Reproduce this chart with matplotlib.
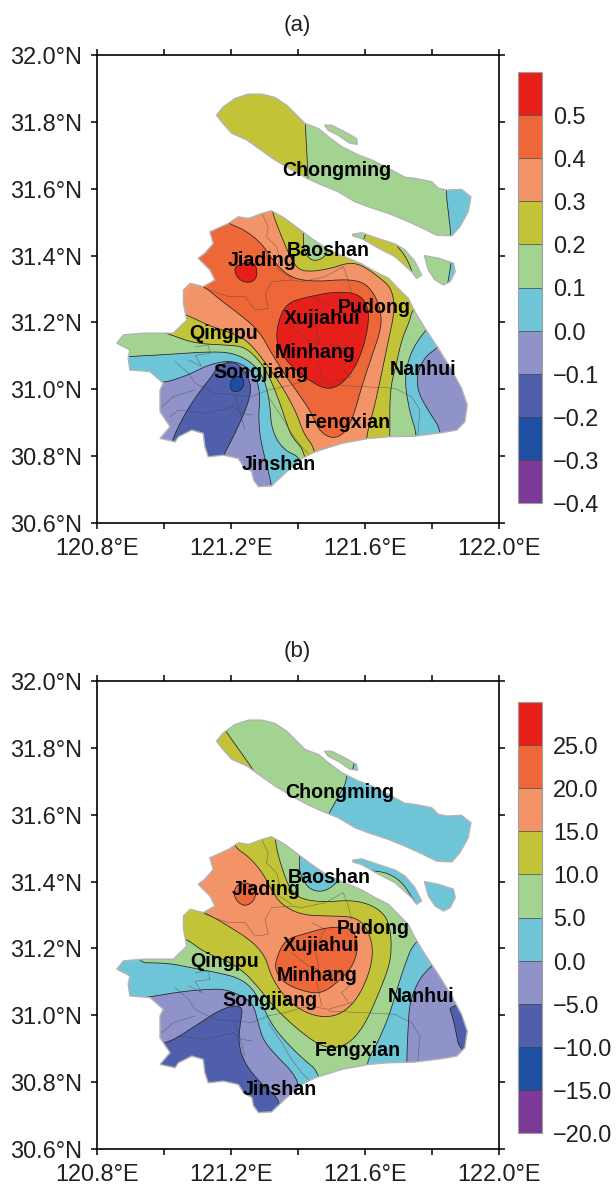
import numpy as np
import matplotlib
matplotlib.use('Agg')
import matplotlib.pyplot as plt
from matplotlib.patches import Polygon
from matplotlib.colors import ListedColormap, BoundaryNorm
from matplotlib.cm import ScalarMappable

plt.rcParams['font.family'] = ['Liberation Sans', 'DejaVu Sans']

# colours of the bands, low to high
band_colors = ['#7B3A96', '#1E4FA3', '#4F5FAB', '#8F93C9', '#6FC5D8',
               '#A3D390', '#C3C337', '#F29468', '#EE6739', '#E71F1B']
PURPLE, DBLUE, MBLUE, PERI, CYAN, GREEN, OLIVE, SALMON, ORANGE, RED = range(10)

levels_a = [-0.4, -0.3, -0.2, -0.1, 0.0, 0.1, 0.2, 0.3, 0.4, 0.5, 0.6]
levels_b = [-20, -15, -10, -5, 0, 5, 10, 15, 20, 25, 30]
cbar_labels_a = ['\u22120.4', '\u22120.3', '\u22120.2', '\u22120.1', '0.0', '0.1', '0.2', '0.3', '0.4', '0.5']
cbar_labels_b = ['\u221220.0', '\u221215.0', '\u221210.0', '\u22125.0', '0.0', '5.0', '10.0', '15.0', '20.0', '25.0']

# coast outlines (lon, lat)
chongming = [(121.158,31.820),(121.178,31.845),(121.213,31.870),(121.253,31.883),(121.293,31.883),(121.332,31.873),
             (121.367,31.850),(121.397,31.820),(121.422,31.795),(121.462,31.780),(121.492,31.755),(121.531,31.726),
             (121.581,31.701),(121.621,31.686),(121.671,31.661),(121.720,31.634),(121.750,31.631),(121.800,31.621),
             (121.820,31.601),(121.845,31.596),(121.889,31.598),(121.917,31.576),(121.909,31.531),(121.884,31.486),
             (121.860,31.459),(121.815,31.461),(121.775,31.481),(121.720,31.506),(121.671,31.526),(121.611,31.546),
             (121.571,31.561),(121.521,31.591),(121.472,31.611),(121.432,31.629),(121.382,31.656),(121.332,31.686),
             (121.283,31.721),(121.248,31.746),(121.203,31.766),(121.173,31.800)]
islet = [(121.480,31.790),(121.501,31.790),(121.541,31.770),(121.576,31.750),(121.578,31.733),(121.556,31.736),
         (121.521,31.760),(121.491,31.775)]
changxing = [(121.563,31.464),(121.591,31.468),(121.641,31.451),(121.690,31.435),(121.720,31.417),(121.750,31.382),
             (121.770,31.342),(121.755,31.332),(121.740,31.352),(121.690,31.397),(121.641,31.422),(121.591,31.451),
             (121.566,31.458)]
hengsha = [(121.778,31.400),(121.820,31.392),(121.865,31.377),(121.870,31.352),(121.855,31.322),(121.835,31.312),
           (121.810,31.327),(121.790,31.357)]
mainland = [(121.322,31.534),(121.362,31.511),(121.402,31.481),(121.442,31.451),(121.491,31.417),(121.551,31.392),
            (121.591,31.375),(121.631,31.352),(121.671,31.332),(121.700,31.302),(121.730,31.272),(121.750,31.232),
            (121.780,31.182),(121.820,31.122),(121.860,31.057),(121.889,31.003),(121.906,30.953),(121.899,30.903),
            (121.875,30.878),(121.830,30.870),(121.750,30.860),(121.671,30.858),(121.611,30.853),(121.531,30.838),
            (121.452,30.813),(121.412,30.793),(121.362,30.749),(121.322,30.711),(121.283,30.709),(121.268,30.729),
            (121.263,30.754),(121.238,30.769),(121.223,30.793),(121.178,30.803),(121.133,30.798),(121.123,30.828),
            (121.118,30.868),(121.084,30.878),(121.044,30.858),(121.034,30.843),(120.989,30.853),(121.019,30.888),
            (120.989,30.933),(120.989,30.998),(120.999,31.018),(120.959,31.053),(120.899,31.058),(120.894,31.093),
            (120.899,31.118),(120.860,31.138),(120.880,31.163),(120.944,31.168),(121.029,31.168),(121.069,31.207),
            (121.059,31.257),(121.059,31.297),(121.079,31.317),(121.118,31.307),(121.153,31.327),(121.138,31.357),
            (121.103,31.392),(121.123,31.407),(121.148,31.436),(121.138,31.471),(121.193,31.496),(121.223,31.516),
            (121.253,31.511),(121.293,31.526)]

# district boundaries
districts = [
    [(121.293,31.526),(121.312,31.486),(121.307,31.456),(121.337,31.426),(121.347,31.387),(121.337,31.362),(121.382,31.332)],
    [(121.123,31.302),(121.193,31.277),(121.243,31.277),(121.273,31.237),(121.312,31.242),(121.303,31.287),(121.322,31.322),
     (121.382,31.327),(121.412,31.322),(121.482,31.337),(121.536,31.367),(121.551,31.327),(121.561,31.287)],
    [(121.034,31.083),(121.074,31.048),(121.094,31.018),(121.133,30.998),(121.153,30.988),(121.213,30.983),(121.263,30.978),
     (121.312,30.998),(121.362,31.008),(121.432,31.028),(121.491,31.018),(121.561,31.038)],
    [(121.491,31.013),(121.591,31.008),(121.690,31.003),(121.740,30.978),(121.765,30.938),(121.758,30.860)],
    [(120.994,30.948),(121.029,30.978),(121.094,30.998)],
    [(121.019,30.918),(121.044,30.938),(121.123,30.928),(121.208,30.948),(121.233,30.928),(121.263,30.923)],
    [(121.213,30.978),(121.223,30.948),(121.243,30.878)],
    [(121.312,30.978),(121.352,30.918),(121.382,30.868),(121.412,30.828),(121.432,30.808)],
    [(121.442,31.277),(121.482,31.257),(121.452,31.197),(121.462,31.147),(121.457,31.098),(121.472,31.028)],
    [(121.491,31.137),(121.531,31.127),(121.566,31.098),(121.531,31.068),(121.551,31.038)],
    [(121.094,31.127),(121.133,31.132),(121.138,31.107),(121.094,31.102),(121.113,31.068),(121.074,31.088)],
    [(121.382,31.187),(121.432,31.147),(121.462,31.137)],
]

# panel (a): areas above each contour level, mainland
a_00 = [(120.944,31.023),(120.999,31.018),(121.074,31.043),(121.133,31.073),(121.193,31.086),(121.243,31.073),(121.278,31.033),
        (121.288,30.978),(121.283,30.923),(121.288,30.848),(121.322,30.719),(121.332,30.630),(121.833,30.630),(121.833,30.870),
        (121.795,30.928),(121.760,30.988),(121.755,31.043),(121.780,31.098),(121.815,31.122),(121.889,31.197),(121.889,31.626),
        (120.795,31.626),(120.795,31.038)]
a_01 = [(120.855,31.093),(120.894,31.098),(120.994,31.103),(121.143,31.113),(121.213,31.108),(121.273,31.073),(121.303,31.023),
        (121.317,30.958),(121.322,30.878),(121.357,30.818),(121.417,30.793),(121.432,30.630),(121.758,30.630),(121.758,30.860),
        (121.735,30.928),(121.718,31.028),(121.735,31.108),(121.780,31.177),(121.850,31.247),(121.850,31.626),(120.795,31.626),
        (120.795,31.127)]
a_02 = [(121.412,31.546),(121.417,31.476),(121.417,31.417),(121.437,31.387),(121.462,31.385),(121.487,31.402),(121.482,31.427),
        (121.457,31.456),(121.491,31.506),(121.790,31.307),(121.740,31.232),(121.735,31.207),(121.710,31.147),(121.695,31.078),
        (121.675,30.998),(121.675,30.860),(121.675,30.630),(121.432,30.630),(121.427,30.808),(121.382,30.858),(121.367,30.898),
        (121.347,30.958),(121.322,31.023),(121.293,31.078),(121.243,31.127),(121.193,31.132),(121.094,31.137),(121.024,31.162),
        (120.894,31.207),(120.894,31.546)]
a_03 = [(121.322,31.566),(121.322,31.534),(121.352,31.456),(121.377,31.397),(121.402,31.357),(121.442,31.352),(121.501,31.362),
        (121.551,31.379),(121.591,31.372),(121.641,31.337),(121.681,31.302),(121.690,31.237),(121.671,31.147),(121.636,30.978),
        (121.621,30.918),(121.603,30.853),(121.591,30.630),(121.472,30.630),(121.457,30.815),(121.417,30.868),(121.397,30.928),
        (121.357,31.003),(121.312,31.068),(121.263,31.132),(121.223,31.162),(121.143,31.187),(121.069,31.222),(120.944,31.277),
        (120.944,31.566)]
a_04 = [(121.193,31.496),(121.243,31.476),(121.293,31.436),(121.332,31.377),(121.382,31.332),(121.452,31.322),(121.541,31.329),
        (121.591,31.322),(121.621,31.297),(121.646,31.247),(121.651,31.187),(121.621,31.098),(121.591,31.008),(121.566,30.918),
        (121.541,30.868),(121.501,30.851),(121.462,30.878),(121.442,30.928),(121.402,30.988),(121.362,31.043),(121.322,31.108),
        (121.283,31.177),(121.223,31.227),(121.163,31.272),(121.123,31.307),(121.044,31.337),(121.044,31.496),(121.143,31.536)]
a_05 = [(121.362,31.257),(121.432,31.277),(121.511,31.292),(121.581,31.287),(121.611,31.247),(121.611,31.187),(121.591,31.108),
        (121.561,31.048),(121.521,31.008),(121.482,31.000),(121.432,31.028),(121.382,31.068),(121.342,31.118),(121.335,31.177)]
a_05_jiading = [(121.208,31.362),(121.233,31.377),(121.273,31.382),(121.281,31.337),(121.258,31.317),(121.223,31.327)]
a_low_1 = [(121.024,30.848),(121.064,30.928),(121.103,30.988),(121.143,31.038),(121.163,31.070),(121.203,31.085),(121.238,31.063),
           (121.260,31.018),(121.258,30.978),(121.238,30.923),(121.208,30.858),(121.176,30.798),(121.153,30.729),(120.994,30.729)]
a_low_2 = [(121.196,31.018),(121.213,31.038),(121.235,31.038),(121.241,31.013),(121.225,30.993),(121.203,30.993)]
# panel (a): islands
a_ch_01 = [(121.842,31.925),(121.842,31.596),(121.850,31.526),(121.858,31.459),(121.858,31.327),(121.094,31.327),(121.094,31.925)]
a_ch_02 = [(121.422,31.925),(121.422,31.795),(121.432,31.629),(121.432,31.476),(121.094,31.476),(121.094,31.925)]
a_cx_02 = [(121.690,31.486),(121.690,31.435),(121.720,31.402),(121.745,31.347),(121.745,31.307),(121.591,31.307),(121.591,31.486)]
a_hs_01 = [(121.858,31.397),(121.858,31.377),(121.848,31.317),(121.840,31.287),(121.740,31.287),(121.740,31.427)]

# panel (b): mainland
b_00 = [(120.845,31.048),(120.899,31.048),(120.959,31.055),(121.054,31.071),(121.133,31.078),(121.183,31.078),(121.233,31.058),
        (121.268,31.033),(121.283,30.973),(121.298,30.923),(121.342,30.873),(121.382,30.833),(121.407,30.788),(121.407,30.630),
        (121.725,30.630),(121.725,30.863),(121.730,30.973),(121.735,31.043),(121.765,31.113),(121.805,31.152),(121.870,31.227),
        (121.870,31.626),(120.795,31.626),(120.795,31.048)]
b_05 = [(120.894,31.157),(121.009,31.157),(121.084,31.142),(121.163,31.127),(121.223,31.112),(121.263,31.083),(121.293,31.033),
        (121.322,30.973),(121.362,30.923),(121.412,30.873),(121.472,30.823),(121.482,30.630),(121.599,30.630),(121.599,30.848),
        (121.636,30.913),(121.671,30.993),(121.695,31.073),(121.720,31.152),(121.748,31.222),(121.840,31.277),(121.591,31.446),
        (121.521,31.427),(121.521,31.400),(121.482,31.370),(121.442,31.373),(121.417,31.400),(121.404,31.435),(121.407,31.475),
        (121.392,31.546),(120.894,31.546)]
b_10 = [(121.332,31.546),(121.332,31.529),(121.342,31.475),(121.372,31.385),(121.402,31.350),(121.472,31.338),(121.561,31.345),
        (121.621,31.330),(121.661,31.300),(121.675,31.262),(121.680,31.212),(121.675,31.152),(121.641,31.063),(121.601,30.973),
        (121.561,30.923),(121.526,30.905),(121.491,30.903),(121.452,30.918),(121.382,30.973),(121.322,31.033),(121.283,31.083),
        (121.243,31.127),(121.193,31.162),(121.123,31.187),(121.064,31.232),(120.944,31.277),(120.944,31.546)]
b_15 = [(121.213,31.526),(121.213,31.502),(121.253,31.475),(121.293,31.430),(121.322,31.375),(121.352,31.330),(121.412,31.300),
        (121.491,31.297),(121.571,31.295),(121.606,31.262),(121.626,31.202),(121.616,31.132),(121.581,31.053),(121.531,31.003),
        (121.472,30.993),(121.412,31.013),(121.362,31.053),(121.322,31.113),(121.303,31.177),(121.263,31.222),(121.193,31.267),
        (121.128,31.305),(121.044,31.337),(121.044,31.506)]
b_20 = [(121.337,31.172),(121.362,31.227),(121.432,31.247),(121.491,31.264),(121.566,31.262),(121.581,31.202),(121.566,31.152),
        (121.536,31.113),(121.472,31.063),(121.412,31.073),(121.357,31.098),(121.332,31.137)]
b_20_jiading = [(121.208,31.370),(121.223,31.395),(121.255,31.397),(121.276,31.370),(121.270,31.342),(121.243,31.325),(121.216,31.342)]
b_low_1 = [(121.012,30.915),(121.094,30.968),(121.178,31.023),(121.238,31.031),(121.228,30.973),(121.223,30.913),(121.243,30.853),
           (121.293,30.793),(121.357,30.738),(121.332,30.630),(120.894,30.630),(120.894,30.898)]
b_low_2 = [(121.850,31.028),(121.860,31.003),(121.870,30.963),(121.884,30.888),(121.989,30.868),(121.989,31.053)]
# panel (b): islands
b_ch_05 = [(121.553,31.925),(121.553,31.712),(121.521,31.654),(121.491,31.599),(121.442,31.506),(121.094,31.506),(121.094,31.925)]
b_ch_10 = [(121.163,31.885),(121.188,31.846),(121.233,31.783),(121.271,31.729),(121.293,31.686),(121.094,31.686),(121.094,31.885)]
b_is_05 = [(121.571,31.795),(121.569,31.753),(121.563,31.734),(121.556,31.696),(121.442,31.696),(121.442,31.795)]
b_cx_05 = [(121.571,31.433),(121.616,31.433),(121.666,31.427),(121.710,31.400),(121.740,31.355),(121.755,31.333),(121.755,31.287),(121.571,31.287)]

# district labels
place_names = ['Chongming', 'Baoshan', 'Jiading', 'Xujiahui', 'Pudong', 'Qingpu', 'Minhang', 'Songjiang', 'Nanhui', 'Fengxian', 'Jinshan']
place_lon_a = [121.517, 121.490, 121.293, 121.472, 121.629, 121.178, 121.452, 121.290, 121.775, 121.549, 121.344]
place_lat_a = [31.653, 31.414, 31.384, 31.212, 31.245, 31.167, 31.111, 31.051, 31.058, 30.901, 30.774]
place_lon_b = [121.526, 121.495, 121.307, 121.470, 121.626, 121.181, 121.457, 121.317, 121.768, 121.579, 121.347]
place_lat_b = [31.667, 31.413, 31.377, 31.210, 31.260, 31.162, 31.118, 31.043, 31.056, 30.896, 30.779]

land_a = [
    (mainland, PERI, [(CYAN, a_00), (GREEN, a_01), (OLIVE, a_02), (SALMON, a_03), (ORANGE, a_04), (RED, a_05),
                      (RED, a_05_jiading), (MBLUE, a_low_1), (DBLUE, a_low_2)]),
    (chongming, CYAN, [(GREEN, a_ch_01), (OLIVE, a_ch_02)]),
    (islet, GREEN, []),
    (changxing, GREEN, [(OLIVE, a_cx_02)]),
    (hengsha, CYAN, [(GREEN, a_hs_01)]),
]
land_b = [
    (mainland, PERI, [(CYAN, b_00), (GREEN, b_05), (OLIVE, b_10), (SALMON, b_15), (ORANGE, b_20),
                      (ORANGE, b_20_jiading), (MBLUE, b_low_1), (MBLUE, b_low_2)]),
    (chongming, CYAN, [(GREEN, b_ch_05), (OLIVE, b_ch_10)]),
    (islet, CYAN, [(GREEN, b_is_05)]),
    (changxing, CYAN, [(GREEN, b_cx_05)]),
    (hengsha, CYAN, []),
]

W, H = 616, 1186
TEXT = '#231F20'


def smooth(pts, n=3):
    # corner cutting, the contours are round in the original
    p = np.array(pts, dtype=float)
    for _ in range(n):
        q = np.roll(p, -1, axis=0)
        p = np.column_stack([0.75 * p + 0.25 * q, 0.25 * p + 0.75 * q]).reshape(-1, 2)
    return p


def draw_map(ax, land, lons, lats):
    for outline, base, layers in land:
        clip = Polygon(outline, closed=True, fc=band_colors[base], ec='none', zorder=1)
        ax.add_patch(clip)
        for k, poly in layers:
            p = Polygon(smooth(poly), closed=True, fc=band_colors[k], ec='#222222', lw=0.55, zorder=2)
            ax.add_patch(p)
            p.set_clip_path(clip)
        if outline is mainland:
            for d in districts:
                d = np.array(d)
                ln, = ax.plot(d[:, 0], d[:, 1], color='#444444', lw=0.35, alpha=0.75, zorder=3)
                ln.set_clip_path(clip)
        ax.add_patch(Polygon(outline, closed=True, fc='none', ec='#b4b4b4', lw=1.0, zorder=4))
    for name, x, y in zip(place_names, lons, lats):
        ax.text(x, y, name, fontsize=14.1, fontweight='bold', color='black', ha='center', va='center', zorder=5)
    ax.set_xlim(120.8, 122.0)
    ax.set_ylim(30.6, 32.0)
    ax.set_xticks(np.arange(120.8, 122.01, 0.2))
    ax.set_xticklabels(['120.8\u00b0E', '', '121.2\u00b0E', '', '121.6\u00b0E', '', '122.0\u00b0E'])
    ax.set_yticks(np.arange(30.6, 32.01, 0.2))
    ax.set_yticklabels(['%.1f\u00b0N' % v for v in np.arange(30.6, 32.01, 0.2)])
    ax.tick_params(direction='out', length=4.3, width=1.1, top=True, right=True, labelsize=16.9, labelcolor=TEXT)
    ax.tick_params(axis='x', pad=6)
    ax.tick_params(axis='y', pad=6.5)
    for s in ax.spines.values():
        s.set_linewidth(1.2)


def add_axes_px(fig, left, top, right, bottom):
    return fig.add_axes([left / W, 1 - bottom / H, (right - left) / W, (bottom - top) / H])


def draw_cbar(fig, cax, levels, labels):
    cmap = ListedColormap(band_colors)
    norm = BoundaryNorm(levels, cmap.N)
    cb = fig.colorbar(ScalarMappable(norm=norm, cmap=cmap), cax=cax, ticks=levels[:-1], drawedges=True)
    cb.ax.set_yticklabels(labels)
    cb.ax.minorticks_off()
    cb.ax.tick_params(which='both', length=0, labelsize=16.9, labelcolor=TEXT, pad=8)
    cb.outline.set_edgecolor('#a0a0a0')
    cb.outline.set_linewidth(0.8)
    cb.dividers.set_color('#444444')
    cb.dividers.set_linewidth(0.5)
    cb.dividers.set_clip_on(True)


fig = plt.figure(figsize=(W / 100, H / 100), dpi=100)

ax_a = add_axes_px(fig, 96.7, 55, 498.7, 523)
draw_map(ax_a, land_a, place_lon_a, place_lat_a)
ax_a.set_title('(a)', fontsize=16, color=TEXT, pad=17.5)
draw_cbar(fig, add_axes_px(fig, 518, 72, 542, 503), levels_a, cbar_labels_a)

ax_b = add_axes_px(fig, 96.7, 681, 498.7, 1149)
draw_map(ax_b, land_b, place_lon_b, place_lat_b)
ax_b.set_title('(b)', fontsize=16, color=TEXT, pad=17.5)
draw_cbar(fig, add_axes_px(fig, 518, 702, 542, 1133), levels_b, cbar_labels_b)

fig.savefig('out.png', dpi=100)
